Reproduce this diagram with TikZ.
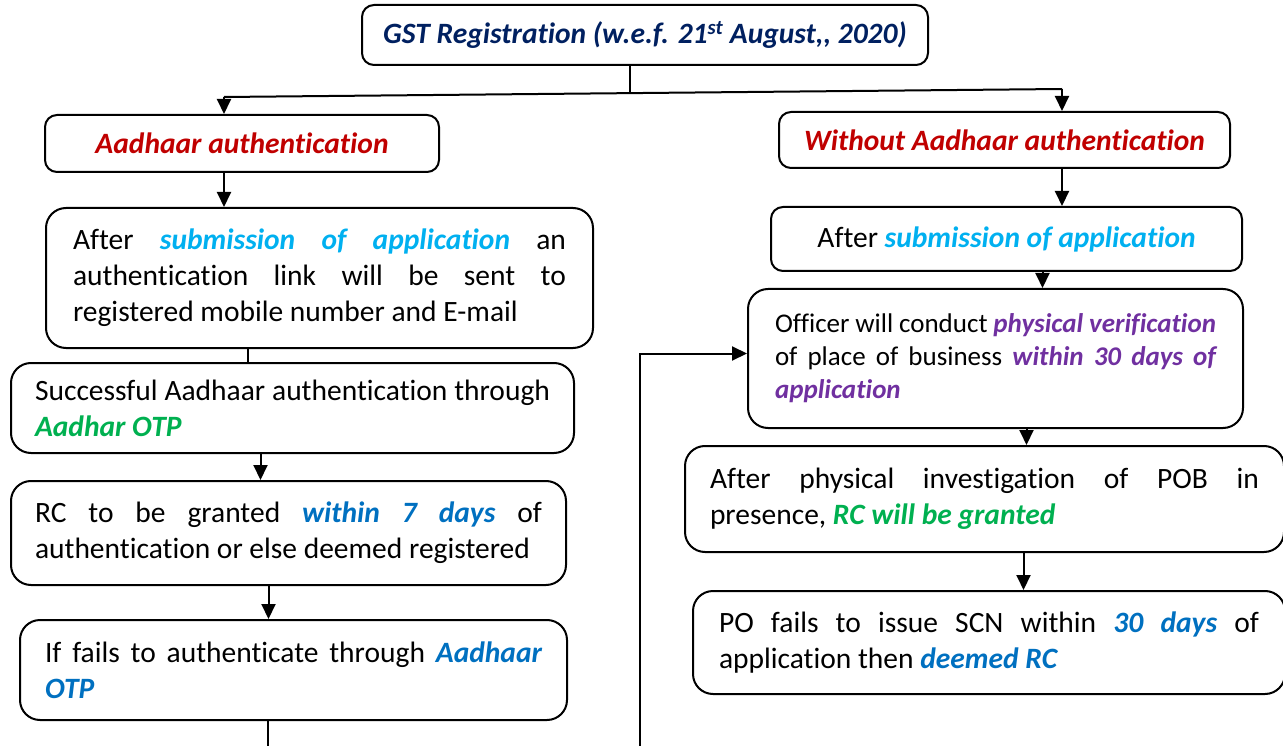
\documentclass[tikz,border=0pt]{standalone}
\usepackage{fontspec}
\setmainfont{Carlito}[Ligatures=NoCommon]
\usetikzlibrary{arrows.meta}
\definecolor{navy}{HTML}{002060}
\definecolor{darkred}{HTML}{C00000}
\definecolor{skyblue}{HTML}{00B0F0}
\definecolor{leafgreen}{HTML}{00B050}
\definecolor{seablue}{HTML}{0070C0}
\definecolor{purp}{HTML}{7030A0}
\newcommand{\hl}[2]{\textcolor{#1}{\textbf{\textit{#2}}}}
\tikzset{
  card/.style={draw, line width=2pt, rounded corners=12pt, inner ysep=0pt,
    font=\fontsize{29.5}{36}\selectfont},
  textcard/.style={card, anchor=north west, align=justify, rounded corners=20pt},
  link/.style={line width=2pt},
  arr/.style={line width=2pt, -{Triangle[length=15pt,width=14pt]}},
}
\begin{document}
\begin{tikzpicture}[x=1pt,y=-1pt]
  \useasboundingbox (0,0) rectangle (1283,746);
  \hyphenpenalty=10000
  % top
  \node[card, minimum width=566pt, minimum height=60pt] (title) at (645,35)
    {\hl{navy}{GST Registration (w.e.f. 21\textsuperscript{st} August,{}, 2020)}};
  \coordinate (split) at (630,93);
  \coordinate (lsplit) at (224,97);
  \coordinate (rsplit) at (1062,89);
  % left branch
  \node[card, minimum width=394pt, minimum height=57pt] (aadh) at (242,143.5)
    {\hl{darkred}{Aadhaar authentication}};
  \node[textcard, text width=493pt, inner xsep=27pt, minimum height=140pt] (subm) at (45,207)
    {After \hl{skyblue}{submission of application} an authentication link will be sent to registered mobile number and E-mail};
  \node[textcard, text width=515pt, inner xsep=24pt, minimum height=90pt] (succ) at (10,362)
    {Successful Aadhaar authentication through \hl{leafgreen}{Aadhar OTP}};
  \node[textcard, text width=507pt, inner xsep=24pt, minimum height=104pt] (rc) at (10,480)
    {RC to be granted \hl{seablue}{within 7 days} of authentication or else deemed registered};
  \node[textcard, text width=497pt, inner xsep=25pt, minimum height=100pt] (fail) at (19,619)
    {If fails to authenticate through \hl{seablue}{Aadhaar OTP}};
  \coordinate (failend) at (268,746);
  % right branch
  \node[card, minimum width=451pt, minimum height=56pt] (without) at (1004.5,140)
    {\hl{darkred}{Without Aadhaar authentication}};
  \node[card, minimum width=471pt, minimum height=64pt] (after) at (1006.5,239)
    {After \hl{skyblue}{submission of application}};
  \node[textcard, text width=441pt, inner xsep=27pt, minimum height=139pt,
    font=\fontsize{27}{33}\selectfont] (offc) at (747,288)
    {Officer will conduct \hl{purp}{physical verification} of place of business \hl{purp}{within 30 days of application}};
  \node[textcard, text width=549pt, inner xsep=25pt, minimum height=106pt] (phys) at (684,445)
    {After physical investigation of POB in\linebreak presence, \hl{leafgreen}{RC will be granted}};
  \node[textcard, text width=540pt, inner xsep=26pt, minimum height=103pt] (po) at (692,590)
    {PO fails to issue SCN within \hl{seablue}{30 days} of application then \hl{seablue}{deemed RC}};
  \coordinate (loop) at (640,746);
  % connectors
  \draw[link] (split |- title.south) -- (split);
  \draw[link] (lsplit) -- (rsplit);
  \draw[arr] (lsplit) -- (lsplit |- aadh.north);
  \draw[arr] (rsplit) -- (rsplit |- without.north);
  \draw[arr] (lsplit |- aadh.south) -- (lsplit |- subm.north);
  \draw[link] ([xshift=-72pt]subm.south) -- ([xshift=-72pt]subm.south |- succ.north);
  \draw[arr] ([xshift=-32pt]succ.south) -- ([xshift=-32pt]succ.south |- rc.north);
  \draw[arr] ([xshift=-20pt]rc.south) -- ([xshift=-20pt]rc.south |- fail.north);
  \draw[link] (failend |- fail.south) -- (failend);
  \draw[arr] (rsplit |- without.south) -- (rsplit |- after.north);
  \draw[arr] ([xshift=36pt]after.south) -- ([xshift=36pt]after.south |- offc.north);
  \draw[arr] ([xshift=31pt]offc.south) -- ([xshift=31pt]offc.south |- phys.north);
  \draw[arr] ([xshift=39pt]phys.south) -- ([xshift=39pt]phys.south |- po.north);
  \draw[arr] (loop) |- ([yshift=5pt]offc.west);
\end{tikzpicture}
\end{document}
